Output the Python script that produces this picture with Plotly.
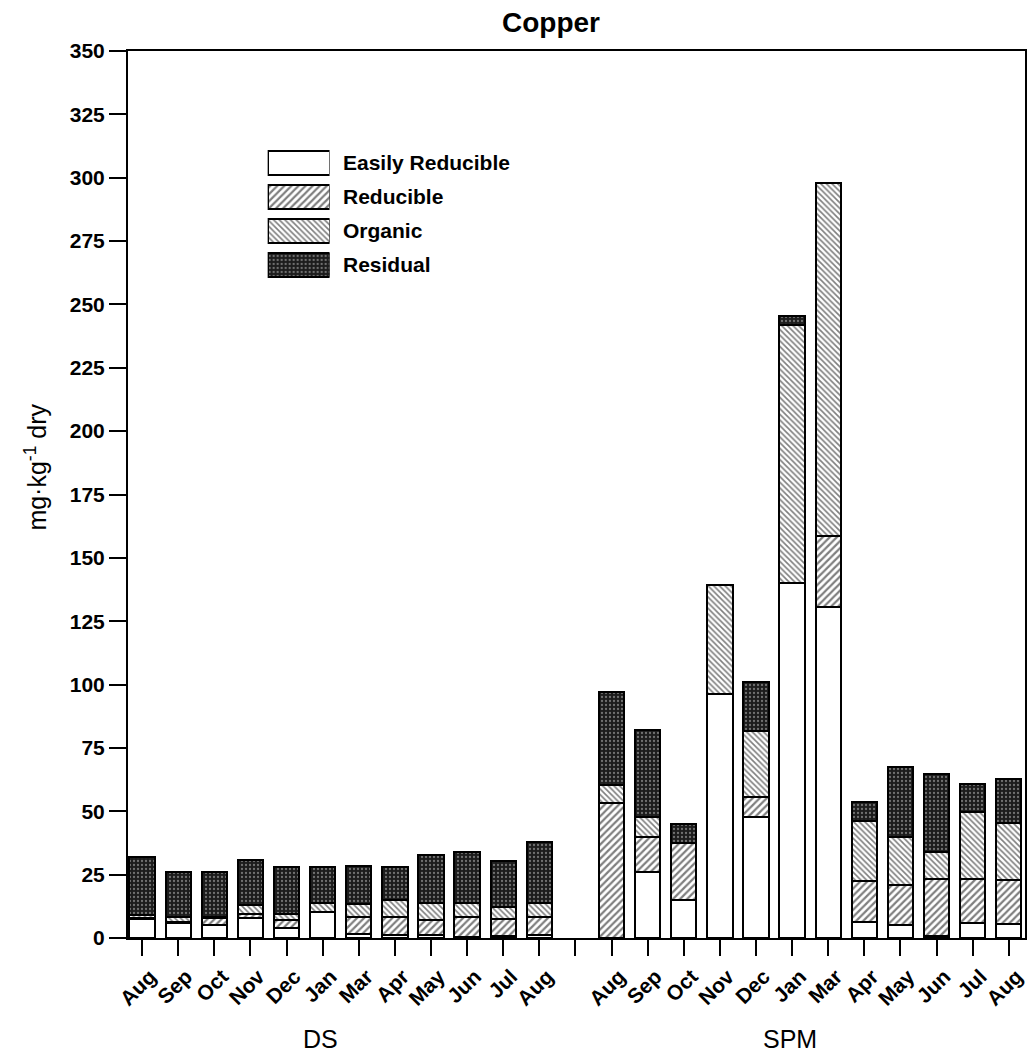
import plotly.graph_objects as go

months_ds = ["Aug", "Sep", "Oct", "Nov", "Dec", "Jan", "Mar", "Apr", "May", "Jun", "Jul", "Aug"]
months_spm = ["Aug", "Sep", "Oct", "Nov", "Dec", "Jan", "Mar", "Apr", "May", "Jun", "Jul", "Aug"]

# DS (deposited sediment) fractions, mg/kg dry
ds_easily = [7.4, 6.0, 5.0, 7.9, 4.1, 10.3, 1.4, 1.0, 1.0, 0.3, 0.7, 1.3]
ds_reducible = [0.3, 0.5, 3.0, 1.4, 3.0, 0.0, 6.9, 7.3, 6.1, 8.1, 6.9, 7.1]
ds_organic = [1.5, 1.6, 0.1, 3.8, 2.2, 3.6, 5.1, 6.7, 6.8, 5.5, 4.8, 5.5]
ds_residual = [22.6, 17.8, 17.8, 17.8, 18.8, 14.0, 15.1, 12.9, 18.7, 19.9, 18.1, 24.1]

# SPM (suspended particulate matter) fractions, mg/kg dry
spm_easily = [0.0, 25.9, 15.1, 96.4, 47.6, 140.2, 130.7, 6.4, 5.1, 0.9, 5.8, 5.4]
spm_reducible = [53.4, 14.1, 22.2, 0.0, 8.2, 0.0, 28.1, 16.0, 15.7, 22.4, 17.5, 17.5]
spm_organic = [7.0, 7.9, 0.0, 42.8, 26.0, 101.7, 139.0, 23.8, 18.9, 10.8, 26.5, 22.4]
spm_residual = [36.7, 34.2, 7.6, 0.0, 19.1, 3.6, 0.0, 7.5, 27.7, 30.6, 10.9, 17.3]

fractions = ["Easily Reducible", "Reducible", "Organic", "Residual"]
ds_vals = [ds_easily, ds_reducible, ds_organic, ds_residual]
spm_vals = [spm_easily, spm_reducible, spm_organic, spm_residual]

# positions: DS at 0..11, empty slot at 12, SPM at 13..24
x_ds = list(range(len(months_ds)))
gap_pos = len(months_ds)
x_spm = [gap_pos + 1 + i for i in range(len(months_spm))]
xs = x_ds + x_spm
ticktext = months_ds + months_spm

patterns = [
    dict(shape="", bgcolor="white", fgcolor="black"),
    dict(shape="/", bgcolor="white", fgcolor="black", size=5, solidity=0.45),
    dict(shape="\\", bgcolor="white", fgcolor="black", size=4, solidity=0.4),
    dict(shape=".", bgcolor="#1c1c1c", fgcolor="#c8c8c8", size=4, solidity=0.25),
]
base_colors = ["white", "white", "white", "#1c1c1c"]

font_main = "Liberation Sans, Arial, sans-serif"

fig = go.Figure()
for name, dv, sv, pat, col in zip(fractions, ds_vals, spm_vals, patterns, base_colors):
    fig.add_trace(go.Bar(
        name=name,
        x=xs,
        y=dv + sv,
        width=0.7,
        showlegend=False,
        marker=dict(color=col, line=dict(color="black", width=2), pattern=pat),
    ))

# Legend drawn as patterned swatches on an inset axis (one row per fraction)
for i, (name, pat, col) in enumerate(zip(fractions, patterns, base_colors)):
    fig.add_trace(go.Bar(
        x=[1], y=[i], base=0, orientation="h", width=0.72,
        xaxis="x2", yaxis="y2", showlegend=False, hoverinfo="skip",
        marker=dict(color=col, line=dict(color="black", width=2), pattern=pat),
    ))
    fig.add_annotation(text="<b>%s</b>" % name, xref="paper", yref="y2",
                       x=0.238, y=i, xanchor="left", yanchor="middle", showarrow=False,
                       font=dict(size=21, family=font_main, color="black"))

fig.update_layout(
    barmode="stack",
    width=1028,
    height=1053,
    margin=dict(l=128, r=1, t=51, b=115),
    plot_bgcolor="white",
    paper_bgcolor="white",
    font=dict(family=font_main, color="black"),
    title=dict(text="<b>Copper</b>", x=0.536, xanchor="center", y=0.979, yanchor="middle",
               font=dict(size=28, family=font_main, color="black")),
    showlegend=False,
    xaxis=dict(
        range=[-0.39, 24.45],
        tickmode="array",
        tickvals=xs,
        ticktext=ticktext,
        tickangle=-45,
        ticks="outside",
        ticklen=16,
        tickwidth=2,
        tickcolor="black",
        ticklabelshift=8,
        ticklabeloverflow="allow",
        minor=dict(tickmode="array", tickvals=[gap_pos], ticks="outside", ticklen=16,
                   tickwidth=2, tickcolor="black", showgrid=False),
        showline=True,
        linecolor="black",
        linewidth=2,
        mirror=True,
        showgrid=False,
        zeroline=False,
        tickfont=dict(size=21, family=font_main, color="black", weight="bold"),
    ),
    yaxis=dict(
        range=[0, 350],
        tickmode="linear",
        tick0=0,
        dtick=25,
        ticks="outside",
        ticklen=17,
        tickwidth=2,
        tickcolor="black",
        showline=True,
        linecolor="black",
        linewidth=2,
        mirror=True,
        showgrid=False,
        zeroline=False,
        tickfont=dict(size=21, family=font_main, color="black", weight="bold"),
    ),
    xaxis2=dict(domain=[0.1557, 0.2247], range=[0, 1], visible=False, anchor="y2"),
    yaxis2=dict(domain=[0.7396, 0.8929], range=[3.5, -0.5], visible=False, anchor="x2"),
)

fig.add_annotation(text="mg·kg<sup>-1</sup> dry", x=-0.103, y=0.531, xref="paper", yref="paper",
                   textangle=-90, showarrow=False, xanchor="center", yanchor="middle",
                   font=dict(size=25, family=font_main, color="black"))
fig.add_annotation(text="DS", x=0.2147, y=-0.1139, xref="paper", yref="paper",
                   xanchor="center", yanchor="middle",
                   showarrow=False, font=dict(size=25, family=font_main, color="black"))
fig.add_annotation(text="SPM", x=0.7375, y=-0.1139, xref="paper", yref="paper",
                   xanchor="center", yanchor="middle",
                   showarrow=False, font=dict(size=25, family=font_main, color="black"))

fig.write_html("out.html")
